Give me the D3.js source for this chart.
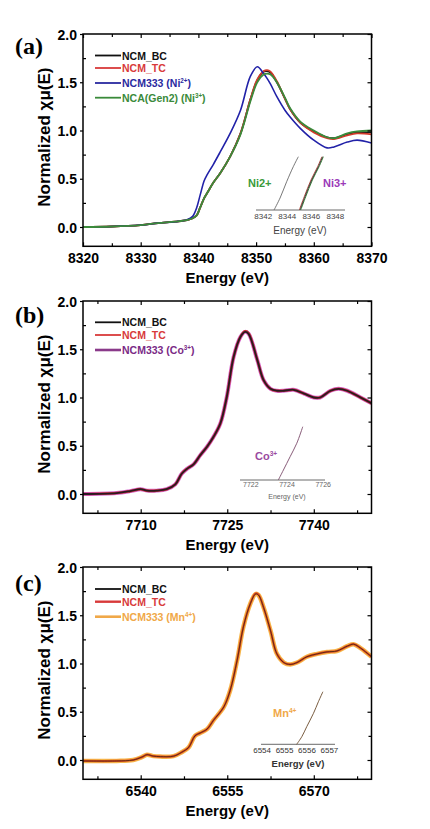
<!DOCTYPE html>
<html><head><meta charset="utf-8">
<script src="https://cdn.jsdelivr.net/npm/d3@7"></script>
<style>body{margin:0;background:#fff}svg{display:block}</style>
</head><body>
<svg id="c" width="430" height="829"></svg>
<script>
// ---------- DATA ----------
// Panel (a) Ni K-edge
const energyA = [8320, 8325, 8330, 8333, 8336, 8338, 8339, 8339.7, 8340.3, 8341, 8341.5, 8342.6, 8343.8, 8345.5, 8347.3, 8349, 8350.2, 8351.3, 8351.9, 8352.5, 8353.6, 8355, 8355.9, 8357.7, 8360, 8362.3, 8363.5, 8365.8, 8367.5, 8370];
const niBC     = [0.0, 0.005, 0.02, 0.04, 0.055, 0.07, 0.09, 0.12, 0.20, 0.30, 0.35, 0.46, 0.56, 0.73, 0.97, 1.32, 1.52, 1.61, 1.615, 1.60, 1.50, 1.33, 1.22, 1.08, 0.99, 0.93, 0.92, 0.96, 0.98, 0.98];
const niTC     = [0.0, 0.005, 0.02, 0.04, 0.055, 0.07, 0.09, 0.12, 0.20, 0.30, 0.35, 0.46, 0.56, 0.73, 0.97, 1.32, 1.53, 1.615, 1.625, 1.61, 1.51, 1.33, 1.22, 1.08, 0.98, 0.92, 0.91, 0.95, 0.97, 0.96];
const niNCM333 = [0.0, 0.005, 0.02, 0.04, 0.055, 0.075, 0.11, 0.20, 0.33, 0.48, 0.54, 0.65, 0.78, 0.97, 1.21, 1.56, 1.66, 1.59, 1.54, 1.48, 1.35, 1.21, 1.14, 1.02, 0.90, 0.82, 0.83, 0.88, 0.90, 0.87];
const niNCA    = [0.0, 0.005, 0.02, 0.04, 0.055, 0.07, 0.09, 0.12, 0.20, 0.30, 0.35, 0.46, 0.56, 0.73, 0.96, 1.30, 1.50, 1.58, 1.59, 1.58, 1.50, 1.34, 1.23, 1.09, 1.00, 0.93, 0.92, 0.97, 0.99, 1.00];
// Panel (b) Co K-edge
const energyB = [7700, 7705.8, 7708.2, 7710, 7711.1, 7712.8, 7714.5, 7716, 7717.1, 7718, 7719.2, 7720.3, 7721.5, 7722.6, 7723.8, 7724.9, 7726.1, 7727.3, 7728.1, 7728.7, 7730.2, 7731.3, 7732.5, 7733.6, 7734.8, 7736.5, 7738.3, 7740, 7741.1, 7742.9, 7744.3, 7745.8, 7748.1, 7750];
const coBC     = [0.0, 0.01, 0.03, 0.05, 0.035, 0.035, 0.05, 0.10, 0.21, 0.26, 0.31, 0.40, 0.49, 0.59, 0.73, 1.00, 1.42, 1.63, 1.68, 1.66, 1.39, 1.18, 1.09, 1.07, 1.07, 1.08, 1.04, 1.00, 1.00, 1.07, 1.09, 1.07, 1.00, 0.94];
const coTC     = [0.0, 0.01, 0.03, 0.05, 0.035, 0.035, 0.05, 0.10, 0.21, 0.26, 0.31, 0.40, 0.49, 0.59, 0.73, 1.00, 1.42, 1.63, 1.685, 1.665, 1.39, 1.18, 1.09, 1.07, 1.07, 1.08, 1.04, 1.00, 1.00, 1.07, 1.09, 1.07, 1.00, 0.94];
const coNCM333 = [0.0, 0.01, 0.03, 0.05, 0.035, 0.035, 0.05, 0.10, 0.21, 0.26, 0.31, 0.40, 0.49, 0.59, 0.73, 1.00, 1.42, 1.63, 1.68, 1.66, 1.39, 1.18, 1.09, 1.07, 1.07, 1.08, 1.04, 1.00, 1.00, 1.07, 1.09, 1.07, 1.00, 0.94];
// Panel (c) Mn K-edge
const energyC = [6530, 6535.8, 6538.7, 6540.2, 6541.1, 6542.2, 6543.4, 6545.7, 6547.1, 6548.3, 6549.4, 6550.3, 6551.5, 6552.6, 6554.4, 6555.5, 6556.7, 6557.8, 6559, 6559.9, 6560.4, 6561.3, 6562.5, 6563.6, 6564.8, 6565.9, 6567.1, 6568.8, 6570.6, 6572.3, 6574, 6575.8, 6576.9, 6578.1, 6580];
const mnBC     = [-0.01, -0.01, 0.0, 0.03, 0.055, 0.04, 0.035, 0.04, 0.08, 0.13, 0.25, 0.28, 0.32, 0.41, 0.55, 0.72, 1.03, 1.38, 1.62, 1.72, 1.71, 1.58, 1.34, 1.10, 1.01, 0.99, 1.01, 1.07, 1.10, 1.12, 1.13, 1.18, 1.20, 1.16, 1.07];
const mnTC     = [-0.01, -0.01, 0.0, 0.03, 0.055, 0.04, 0.035, 0.04, 0.08, 0.13, 0.25, 0.28, 0.32, 0.41, 0.55, 0.72, 1.03, 1.38, 1.62, 1.725, 1.715, 1.58, 1.34, 1.10, 1.01, 0.99, 1.01, 1.07, 1.10, 1.12, 1.13, 1.18, 1.20, 1.16, 1.07];
const mnNCM333 = [-0.01, -0.01, 0.0, 0.03, 0.055, 0.04, 0.035, 0.04, 0.08, 0.13, 0.25, 0.28, 0.32, 0.41, 0.55, 0.72, 1.03, 1.38, 1.62, 1.72, 1.71, 1.58, 1.34, 1.10, 1.01, 0.99, 1.01, 1.07, 1.10, 1.12, 1.13, 1.18, 1.20, 1.16, 1.07];
// tick values
const xTicksA = [8320, 8330, 8340, 8350, 8360, 8370];
const xMinorA = [8325, 8335, 8345, 8355, 8365];
const xTicksB = [7710, 7725, 7740];
const xMinorB = [7702.5, 7717.5, 7732.5, 7747.5];
const xTicksC = [6540, 6555, 6570];
const xMinorC = [6532.5, 6547.5, 6562.5, 6577.5];
const yTicks = [0, 0.5, 1.0, 1.5, 2.0];
const yMinor = [0.25, 0.75, 1.25, 1.75];
// insets
const insetTicksA = [8342, 8344, 8346, 8348];
const insetEnergyNi2 = [8342.9, 8343.4, 8343.95, 8344.5, 8344.92];
const insetNi2 = [0.30, 0.40, 0.536, 0.661, 0.744];
const insetEnergyNi3 = [8345.06, 8345.47, 8346.03, 8346.58, 8346.94];
const insetNi3 = [0.30, 0.41, 0.55, 0.66, 0.744];
const insetTicksB = [7722, 7724, 7726];
const insetEnergyCo = [7723.52, 7723.8, 7724.17, 7724.54, 7724.87];
const insetCo = [0.30, 0.383, 0.494, 0.606, 0.744];
const insetTicksC = [6554, 6555, 6556, 6557];
const insetEnergyMn = [6555.54, 6555.77, 6555.99, 6556.29, 6556.51, 6556.71];
const insetMn = [0.30, 0.363, 0.447, 0.558, 0.655, 0.738];

// ---------- DRAW ----------
const svg = d3.select('#c');
const SANS = 'Liberation Sans, Arial, sans-serif';
const SERIF = 'Liberation Serif, Times New Roman, serif';
const L = 83, PW = 288.5, PH = 212.3;

function supText(g, x, y, base, sup, tail, opts) {
  const t = g.append('text').attr('x', x).attr('y', y)
    .attr('font-family', opts.family || SANS).attr('font-size', opts.size)
    .attr('font-weight', opts.weight || 'normal').attr('fill', opts.fill || '#000')
    .attr('text-anchor', opts.anchor || 'start');
  t.append('tspan').text(base);
  if (sup) {
    t.append('tspan').attr('dy', -opts.size * 0.4).attr('font-size', opts.size * 0.6).text(sup);
    t.append('tspan').attr('dy', opts.size * 0.4).text(tail || '');
  }
  return t;
}

function panel(cfg) {
  const top = cfg.top;
  const x = d3.scaleLinear().domain(cfg.xDomain).range([L, L + PW]);
  const y = d3.scaleLinear().domain([-0.2, 2.0]).range([top + PH, top]);
  const g = svg.append('g');

  // curves
  const line = d3.line().curve(d3.curveCatmullRom.alpha(0.5)).x(d => x(d[0])).y(d => y(d[1]));
  const clipId = 'clip' + cfg.id;
  svg.append('clipPath').attr('id', clipId).append('rect').attr('x', L).attr('y', top).attr('width', PW).attr('height', PH);
  const cg = g.append('g').attr('clip-path', `url(#${clipId})`);
  cfg.series.forEach(s => {
    cg.append('path').datum(cfg.energy.map((e, i) => [e, s.values[i]]))
      .attr('d', line).attr('fill', 'none').attr('stroke', s.color)
      .attr('stroke-width', s.width).attr('stroke-linejoin', 'round').attr('opacity', s.opacity || 1);
  });

  // axes (ticks inward)
  const bottom = g.append('g').attr('transform', `translate(0,${top + PH})`)
    .call(d3.axisBottom(x).tickValues(cfg.xTicks).tickSize(-4).tickFormat(d3.format('d')).tickPadding(7));
  bottom.append('g').call(d3.axisBottom(x).tickValues(cfg.xMinor).tickSize(-3).tickFormat(''));
  const topAx = g.append('g').attr('transform', `translate(0,${top})`)
    .call(d3.axisTop(x).tickValues(cfg.xTicks).tickSize(-4).tickFormat(''));
  topAx.append('g').call(d3.axisTop(x).tickValues(cfg.xMinor).tickSize(-3).tickFormat(''));
  const left = g.append('g').attr('transform', `translate(${L},0)`)
    .call(d3.axisLeft(y).tickValues(yTicks).tickSize(3).tickFormat(d3.format('.1f')).tickPadding(3));
  left.append('g').call(d3.axisLeft(y).tickValues(yMinor).tickSize(-3).tickFormat(''));
  const right = g.append('g').attr('transform', `translate(${L + PW},0)`)
    .call(d3.axisRight(y).tickValues(yTicks).tickSize(-4).tickFormat(''));
  right.append('g').call(d3.axisRight(y).tickValues(yMinor).tickSize(-3).tickFormat(''));
  g.selectAll('.domain').remove();
  g.selectAll('.tick line').attr('stroke', '#000').attr('stroke-width', 1.2);
  g.selectAll('.tick text').attr('font-family', SANS).attr('font-size', 14).attr('font-weight', 'bold').attr('fill', '#000');
  left.selectAll('.tick text').attr('dy', '0.36em');
  // frame
  g.append('rect').attr('x', L).attr('y', top).attr('width', PW).attr('height', PH)
    .attr('fill', 'none').attr('stroke', '#000').attr('stroke-width', 1.5);

  // titles
  g.append('text').attr('x', L + PW / 2).attr('y', top + PH + 37).attr('text-anchor', 'middle')
    .attr('font-family', SANS).attr('font-size', 15).attr('font-weight', 'bold').text('Energy (eV)');
  g.append('text').attr('transform', `translate(50,${top + PH / 2 - 3}) rotate(-90)`).attr('text-anchor', 'middle')
    .attr('font-family', SANS).attr('font-size', 17).attr('font-weight', 'bold').text('Normalized χμ(E)');
  g.append('text').attr('x', 15).attr('y', cfg.labelY).attr('font-family', SERIF).attr('font-size', 24)
    .attr('font-weight', 'bold').text(cfg.label);

  // legend
  cfg.legend.forEach((lg, i) => {
    const ly = cfg.legendY[i];
    g.append('line').attr('x1', 95).attr('x2', 121).attr('y1', ly).attr('y2', ly)
      .attr('stroke', lg.color).attr('stroke-width', lg.lw || 1.8);
    supText(g, 122, ly + 4, lg.text, lg.sup, lg.tail, { size: 10.5, weight: 'bold', fill: lg.tcolor || lg.color });
  });

  // inset
  const ins = cfg.inset;
  const ix = d3.scaleLinear().domain(ins.xDomain).range(ins.xRange);
  const iy = d3.scaleLinear().domain([0.3, 0.8]).range([ins.base, ins.base - 60]);
  g.append('line').attr('x1', ins.xRange[0]).attr('x2', ins.xRange[1]).attr('y1', ins.base).attr('y2', ins.base)
    .attr('stroke', '#444').attr('stroke-width', 0.8);
  ins.ticks.forEach(t => {
    g.append('text').attr('x', ix(t)).attr('y', ins.base + ins.tickDy).attr('text-anchor', 'middle')
      .attr('font-family', SANS).attr('font-size', ins.tickSize).attr('fill', ins.tickColor).text(t);
  });
  g.append('text').attr('x', ins.titleX).attr('y', ins.titleY).attr('text-anchor', 'middle')
    .attr('font-family', SANS).attr('font-size', ins.titleSize).attr('font-weight', ins.titleWeight || 'normal')
    .attr('fill', ins.tickColor).text('Energy (eV)');
  const iline = d3.line().curve(d3.curveCatmullRom.alpha(0.5)).x(d => ix(d[0])).y(d => iy(d[1]));
  ins.curves.forEach(c => {
    g.append('path').datum(c.e.map((e, i) => [e + (c.shift || 0), c.v[i]])).attr('d', iline)
      .attr('fill', 'none').attr('stroke', c.color).attr('stroke-width', c.width);
  });
  ins.labels.forEach(lb => {
    supText(g, lb.x, lb.y, lb.text, lb.sup, '', { size: 11, weight: 'bold', fill: lb.color });
  });
}

panel({
  id: 'a', top: 34, label: '(a)', labelY: 54, xDomain: [8320, 8370], xTicks: xTicksA, xMinor: xMinorA,
  energy: energyA,
  series: [
    { values: niBC, color: '#1a1a1a', width: 1.8 },
    { values: niTC, color: '#d23a2a', width: 1.8 },
    { values: niNCM333, color: '#2222a8', width: 1.6 },
    { values: niNCA, color: '#3b8b3b', width: 1.8 }
  ],
  legendY: [55.5, 68, 83, 97.7],
  legend: [
    { text: 'NCM_BC', color: '#111' },
    { text: 'NCM_TC', color: '#d83a3a' },
    { text: 'NCM333 (Ni', sup: '2+', tail: ')', color: '#2a2aa0' },
    { text: 'NCA(Gen2) (Ni', sup: '3+', tail: ')', color: '#3a8a3a' }
  ],
  inset: {
    xDomain: [8341.4, 8348.8], xRange: [256, 345], base: 210, ticks: insetTicksA,
    tickDy: 8.5, tickSize: 8, tickColor: '#444', titleX: 300, titleY: 234, titleSize: 10,
    curves: [
      { e: insetEnergyNi2, v: insetNi2, color: '#555', width: 0.8 },
      { e: insetEnergyNi3, v: insetNi3, color: '#3a8a3a', width: 1.0, shift: 0.06 },
      { e: insetEnergyNi3, v: insetNi3, color: '#b04030', width: 0.9, shift: -0.06 },
      { e: insetEnergyNi3, v: insetNi3, color: '#333', width: 0.9 }
    ],
    labels: [
      { x: 248, y: 187, text: 'Ni2+', color: '#3a9a3a' },
      { x: 323, y: 187, text: 'Ni3+', color: '#9a3ab8' }
    ]
  }
});

panel({
  id: 'b', top: 301, label: '(b)', labelY: 323, xDomain: [7700, 7750], xTicks: xTicksB, xMinor: xMinorB,
  energy: energyB,
  series: [
    { values: coNCM333, color: '#d468cf', width: 4.0 },
    { values: coTC, color: '#c83030', width: 2.6 },
    { values: coBC, color: '#2a1a22', width: 1.8 }
  ],
  legendY: [322.3, 335, 350],
  legend: [
    { text: 'NCM_BC', color: '#111' },
    { text: 'NCM_TC', color: '#d83a3a' },
    { text: 'NCM333 (Co', sup: '3+', tail: ')', color: '#8a3a8a', lw: 2.6, tcolor: '#7a2a86' }
  ],
  inset: {
    xDomain: [7721.4, 7726.1], xRange: [240, 325], base: 480, ticks: insetTicksB,
    tickDy: 7, tickSize: 7, tickColor: '#666', titleX: 287, titleY: 499, titleSize: 7,
    curves: [
      { e: insetEnergyCo, v: insetCo, color: '#7a4a6a', width: 0.9 }
    ],
    labels: [
      { x: 255, y: 460, text: 'Co', sup: '3+', color: '#9a4aa0' }
    ]
  }
});

panel({
  id: 'c', top: 567, label: '(c)', labelY: 591, xDomain: [6530, 6580], xTicks: xTicksC, xMinor: xMinorC,
  energy: energyC,
  series: [
    { values: mnNCM333, color: '#f6b548', width: 4.5 },
    { values: mnTC, color: '#e04a22', width: 2.2 },
    { values: mnBC, color: '#3a2410', width: 1.0, opacity: 0.8 }
  ],
  legendY: [589, 601.7, 616.7],
  legend: [
    { text: 'NCM_BC', color: '#111' },
    { text: 'NCM_TC', color: '#d83a3a', lw: 2.4 },
    { text: 'NCM333 (Mn', sup: '4+', tail: ')', color: '#f0a848', lw: 2.6 }
  ],
  inset: {
    xDomain: [6553.95, 6557.25], xRange: [261, 335], base: 744.3, ticks: insetTicksC,
    tickDy: 8.5, tickSize: 8, tickColor: '#333', titleX: 298, titleY: 767, titleSize: 9.5, titleWeight: 'bold',
    curves: [
      { e: insetEnergyMn, v: insetMn, color: '#6a4a2a', width: 0.9 }
    ],
    labels: [
      { x: 273, y: 717, text: 'Mn', sup: '4+', color: '#f0a848' }
    ]
  }
});
</script>
</body></html>
